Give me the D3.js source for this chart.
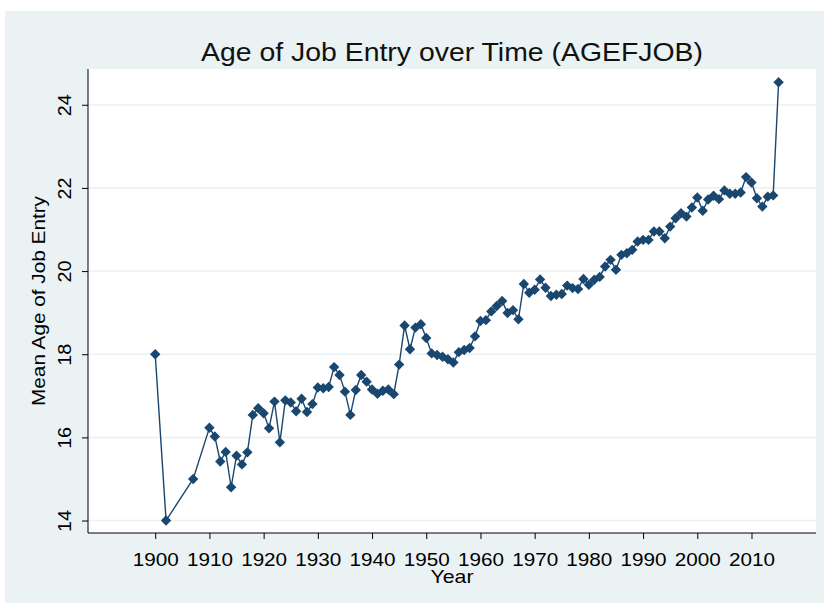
<!DOCTYPE html>
<html>
<head>
<meta charset="utf-8">
<script src="https://cdn.jsdelivr.net/npm/d3@7"></script>
<style>
  body { margin: 0; background: #fff; }
  text { font-family: "Liberation Sans", Arial, sans-serif; fill: #000; }
</style>
</head>
<body>
<svg id="chart" width="824" height="603"></svg>
<script>
// values
const years = [
  1900, 1902, 1907, 1910, 1911, 1912, 1913, 1914, 1915, 1916, 1917, 1918, 1919,
  1920, 1921, 1922, 1923, 1924, 1925, 1926, 1927, 1928, 1929, 1930, 1931, 1932,
  1933, 1934, 1935, 1936, 1937, 1938, 1939, 1940, 1941, 1942, 1943, 1944, 1945,
  1946, 1947, 1948, 1949, 1950, 1951, 1952, 1953, 1954, 1955, 1956, 1957, 1958,
  1959, 1960, 1961, 1962, 1963, 1964, 1965, 1966, 1967, 1968, 1969, 1970, 1971,
  1972, 1973, 1974, 1975, 1976, 1977, 1978, 1979, 1980, 1981, 1982, 1983, 1984,
  1985, 1986, 1987, 1988, 1989, 1990, 1991, 1992, 1993, 1994, 1995, 1996, 1997,
  1998, 1999, 2000, 2001, 2002, 2003, 2004, 2005, 2006, 2007, 2008, 2009, 2010,
  2011, 2012, 2013, 2014, 2015
];
const meanAge = [
  18.0, 14.0, 15.0, 16.23, 16.02, 15.42, 15.65, 14.8, 15.56, 15.35, 15.64, 16.54, 16.7,
  16.58, 16.22, 16.86, 15.88, 16.89, 16.84, 16.63, 16.93, 16.61, 16.8, 17.2, 17.18, 17.21,
  17.69, 17.5, 17.1, 16.54, 17.14, 17.5, 17.34, 17.15, 17.05, 17.12, 17.15, 17.04, 17.75,
  18.69, 18.12, 18.64, 18.72, 18.39, 18.02, 17.98, 17.94, 17.88, 17.8, 18.05, 18.1, 18.15,
  18.43, 18.8, 18.82, 19.03, 19.16, 19.28, 18.99, 19.06, 18.84, 19.69, 19.48, 19.55, 19.8,
  19.6, 19.4, 19.43, 19.45, 19.65, 19.59, 19.57, 19.81, 19.67, 19.79, 19.86, 20.11, 20.27,
  20.03, 20.39, 20.43, 20.51, 20.71, 20.75, 20.75, 20.95, 20.95, 20.79, 21.07, 21.27, 21.39,
  21.31, 21.53, 21.77, 21.45, 21.72, 21.81, 21.73, 21.94, 21.86, 21.86, 21.89, 22.26, 22.13,
  21.75, 21.55, 21.79, 21.82, 24.54
];
const xTicks = [1900, 1910, 1920, 1930, 1940, 1950, 1960, 1970, 1980, 1990, 2000, 2010];
const yTicks = [14, 16, 18, 20, 22, 24];

const titleText = "Age of Job Entry over Time (AGEFJOB)";
const xLabel = "Year";
const yLabel = "Mean Age of Job Entry";

const data = years.map((y, i) => ({ year: y, age: meanAge[i] }));

const svg = d3.select("#chart");
const plot = { left: 88, right: 816, top: 69, bottom: 533 };
const navy = "#1a476f";
const bg = "#eaf2f3";

// graph region
svg.append("rect")
  .attr("x", 5).attr("y", 11)
  .attr("width", 819).attr("height", 592)
  .attr("fill", bg);

svg.append("rect")
  .attr("x", plot.left).attr("y", plot.top)
  .attr("width", plot.right - plot.left).attr("height", plot.bottom - plot.top)
  .attr("fill", "#fff");

const x = d3.scaleLinear()
  .domain([1887.6, 2021.9])
  .range([plot.left, plot.right]);
const y = d3.scaleLinear()
  .domain([13.7, 24.86])
  .range([plot.bottom, plot.top]);

// gridlines
svg.append("g")
  .selectAll("line")
  .data(yTicks)
  .join("line")
  .attr("x1", plot.left).attr("x2", plot.right)
  .attr("y1", (d) => y(d)).attr("y2", (d) => y(d))
  .attr("stroke", bg)
  .attr("stroke-width", 1.6);

// y axis
const yAxis = svg.append("g")
  .attr("transform", `translate(${plot.left},0)`)
  .call(d3.axisLeft(y).tickValues(yTicks).tickSize(6).tickSizeOuter(0).tickFormat((d) => d));
yAxis.select(".domain").attr("stroke", "#000").attr("d", `M0,${plot.top}V${plot.bottom}`);
yAxis.selectAll(".tick line").attr("stroke", "#000");
yAxis.selectAll(".tick text")
  .attr("x", null).attr("dy", null)
  .attr("transform", "translate(-17,0) rotate(-90)")
  .attr("text-anchor", "middle")
  .attr("textLength", 22)
  .attr("lengthAdjust", "spacingAndGlyphs")
  .style("font-size", "19px")
  .style("font-family", "Liberation Sans, Arial, sans-serif");

// x axis
const xAxis = svg.append("g")
  .attr("transform", `translate(0,${plot.bottom})`)
  .call(d3.axisBottom(x).tickValues(xTicks).tickSize(6).tickSizeOuter(0).tickFormat((d) => d));
xAxis.select(".domain").attr("stroke", "#000").attr("d", `M${plot.left},0H${plot.right}`);
xAxis.selectAll(".tick line").attr("stroke", "#000");
xAxis.selectAll(".tick text")
  .attr("y", 33).attr("dy", null)
  .attr("textLength", 46)
  .attr("lengthAdjust", "spacingAndGlyphs")
  .style("font-size", "19px")
  .style("font-family", "Liberation Sans, Arial, sans-serif");

// axis titles
const midX = (plot.left + plot.right) / 2;
svg.append("text")
  .attr("x", midX).attr("y", 583)
  .attr("text-anchor", "middle")
  .attr("textLength", 43)
  .attr("lengthAdjust", "spacingAndGlyphs")
  .style("font-size", "19px")
  .text(xLabel);

svg.append("text")
  .attr("transform", `translate(45,${(plot.top + plot.bottom) / 2}) rotate(-90)`)
  .attr("text-anchor", "middle")
  .attr("textLength", 210)
  .attr("lengthAdjust", "spacingAndGlyphs")
  .style("font-size", "19px")
  .text(yLabel);

svg.append("text")
  .attr("x", midX).attr("y", 61)
  .attr("text-anchor", "middle")
  .attr("textLength", 502)
  .attr("lengthAdjust", "spacingAndGlyphs")
  .style("font-size", "25px")
  .style("fill", "#111")
  .text(titleText);

// connected series
const lineGen = d3.line()
  .x((d) => x(d.year))
  .y((d) => y(d.age));

svg.append("path")
  .datum(data)
  .attr("d", lineGen)
  .attr("fill", "none")
  .attr("stroke", navy)
  .attr("stroke-width", 1.4);

const diamond = d3.symbol().type(d3.symbolSquare).size(54);
svg.append("g")
  .selectAll("path")
  .data(data)
  .join("path")
  .attr("d", diamond)
  .attr("transform", (d) => `translate(${x(d.year)},${y(d.age)}) rotate(45)`)
  .attr("fill", navy);
</script>
</body>
</html>
